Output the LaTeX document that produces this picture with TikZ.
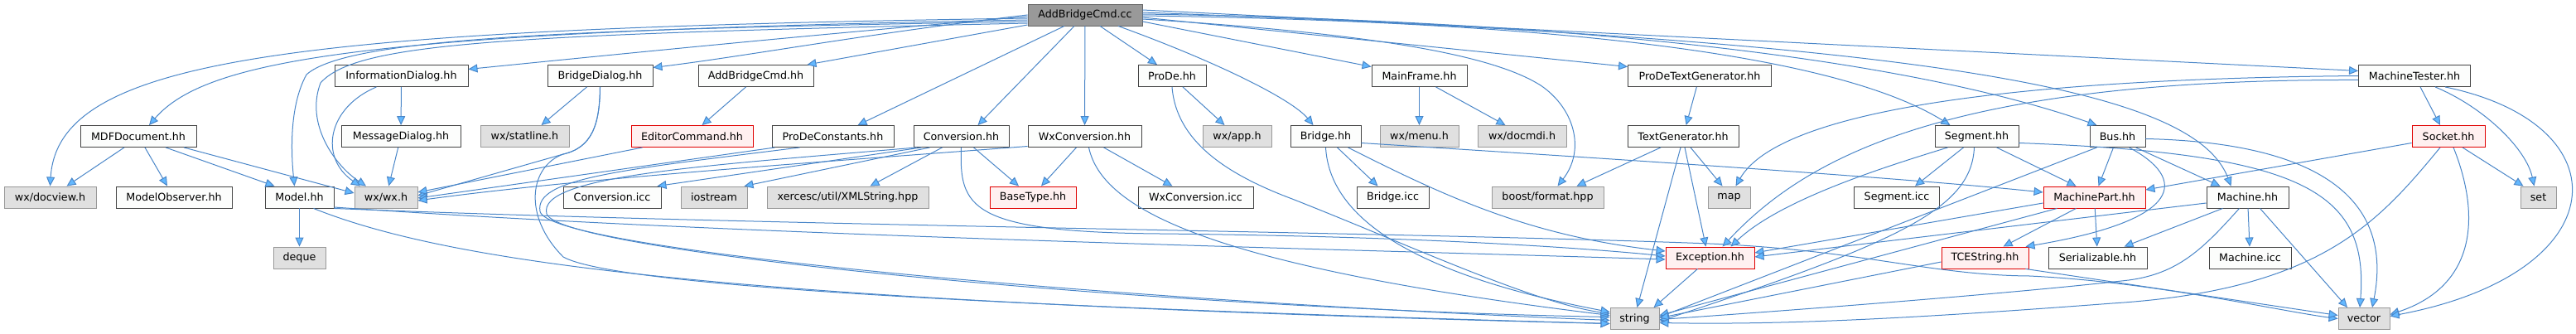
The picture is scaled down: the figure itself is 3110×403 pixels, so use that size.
\documentclass[tikz,border=0pt]{standalone}
\usepackage{fontspec}
\setmainfont{DejaVu Sans}
\usetikzlibrary{arrows.meta}
\definecolor{BoxFill}{HTML}{FCFDFC}
\definecolor{BoxLine}{HTML}{444444}
\definecolor{SysFill}{HTML}{E0E0E0}
\definecolor{SysLine}{HTML}{999999}
\definecolor{BadFill}{HTML}{FFF0F0}
\definecolor{BadLine}{HTML}{E00000}
\definecolor{RootFill}{HTML}{999999}
\definecolor{RootLine}{HTML}{666666}
\definecolor{EdgeBlue}{HTML}{4A86C8}
\definecolor{TipBlue}{HTML}{63B8FF}

\begin{document}
\begin{tikzpicture}[x=1pt, y=-1pt,
      box/.style={draw=BoxLine, fill=BoxFill, line width=0.9pt, minimum height=26pt,
                  inner sep=0pt, font=\fontsize{12.7}{15}\selectfont},
      sysbox/.style={box, draw=SysLine, fill=SysFill},
      badbox/.style={box, draw=BadLine, fill=BadFill},
      rootbox/.style={box, draw=RootLine, fill=RootFill},
      arr/.style={-{Triangle[length=11pt, width=10pt, fill=TipBlue]}, draw=EdgeBlue, line width=1pt}]
    \useasboundingbox (0,0) rectangle (3110,403);

    \node[rootbox, minimum width=138pt] (root) at (1310,18) {AddBridgeCmd.cc};

    \node[box, minimum width=161pt] (infodlg) at (484.5,91.5) {InformationDialog.hh};
    \node[box, minimum width=127pt] (bridgedlg) at (724.5,91.5) {BridgeDialog.hh};
    \node[box, minimum width=139pt] (addcmdhh) at (912.5,91.5) {AddBridgeCmd.hh};
    \node[box, minimum width=82pt] (prode) at (1415,91.5) {ProDe.hh};
    \node[box, minimum width=115pt] (mainframe) at (1713.5,91.5) {MainFrame.hh};
    \node[box, minimum width=173pt] (prodetextgen) at (2052,91.5) {ProDeTextGenerator.hh};
    \node[box, minimum width=135pt] (machinetester) at (2915,91.5) {MachineTester.hh};

    \node[box, minimum width=140pt] (mdfdoc) at (167,164.5) {MDFDocument.hh};
    \node[box, minimum width=144pt] (msgdlg) at (484,164.5) {MessageDialog.hh};
    \node[sysbox, minimum width=107pt] (statline) at (633.5,164.5) {wx/statline.h};
    \node[badbox, minimum width=147pt] (editorcmd) at (835.5,164.5) {EditorCommand.hh};
    \node[box, minimum width=147pt] (prodeconst) at (1005.5,164.5) {ProDeConstants.hh};
    \node[box, minimum width=115pt] (conv) at (1160.5,164.5) {Conversion.hh};
    \node[box, minimum width=137pt] (wxconv) at (1309.5,164.5) {WxConversion.hh};
    \node[sysbox, minimum width=83pt] (wxapp) at (1493.5,164.5) {wx/app.h};
    \node[box, minimum width=85pt] (bridge) at (1600.5,164.5) {Bridge.hh};
    \node[sysbox, minimum width=95pt] (wxmenu) at (1713.5,164.5) {wx/menu.h};
    \node[sysbox, minimum width=107pt] (docmdi) at (1837.5,164.5) {wx/docmdi.h};
    \node[box, minimum width=134pt] (textgen) at (2032,164.5) {TextGenerator.hh};
    \node[box, minimum width=101pt] (segment) at (2386.5,164.5) {Segment.hh};
    \node[box, minimum width=67pt] (bus) at (2556.5,164.5) {Bus.hh};
    \node[badbox, minimum width=88pt] (socket) at (2956,164.5) {Socket.hh};

    \node[sysbox, minimum width=111pt] (docview) at (60.5,238) {wx/docview.h};
    \node[box, minimum width=140pt] (modelobs) at (210,238) {ModelObserver.hh};
    \node[box, minimum width=83pt] (model) at (361.5,238) {Model.hh};
    \node[sysbox, minimum width=76pt] (wxwx) at (466,238) {wx/wx.h};
    \node[box, minimum width=118pt] (convicc) at (739,238) {Conversion.icc};
    \node[sysbox, minimum width=80pt] (iostream) at (862,238) {iostream};
    \node[sysbox, minimum width=195pt] (xmlstring) at (1023.5,238) {xercesc/util/XMLString.hpp};
    \node[badbox, minimum width=104pt] (basetype) at (1247,238) {BaseType.hh};
    \node[box, minimum width=139pt] (wxconvicc) at (1443.5,238) {WxConversion.icc};
    \node[box, minimum width=87pt] (bridgeicc) at (1681.5,238) {Bridge.icc};
    \node[sysbox, minimum width=135pt] (boostfmt) at (1868.5,238) {boost/format.hpp};
    \node[sysbox, minimum width=51pt] (map) at (2087.5,238) {map};
    \node[box, minimum width=103pt] (segicc) at (2290,238) {Segment.icc};
    \node[badbox, minimum width=123pt] (machinepart) at (2528.5,238) {MachinePart.hh};
    \node[box, minimum width=99pt] (machine) at (2713.5,238) {Machine.hh};
    \node[sysbox, minimum width=43pt] (set) at (3064.5,238) {set};

    \node[sysbox, minimum width=63pt] (deque) at (361.5,311) {deque};
    \node[badbox, minimum width=107pt] (exception) at (2064.5,311) {Exception.hh};
    \node[badbox, minimum width=105pt] (tcestring) at (2396.5,311) {TCEString.hh};
    \node[box, minimum width=119pt] (serializable) at (2532.5,311) {Serializable.hh};
    \node[box, minimum width=99pt] (machineicc) at (2716.5,311) {Machine.icc};

    \node[sysbox, minimum width=59pt] (string) at (1973.5,384.5) {string};
    \node[sysbox, minimum width=62pt] (vector) at (2854,384.5) {vector};

    \draw[arr] ([yshift=-4pt]root.west) .. controls (350,35) and (70,70) .. (docview.north);
    \draw[arr] ([yshift=-6pt]root.west) .. controls (450,38) and (250,70) .. ([xshift=13pt]mdfdoc.north);
    \draw[arr] ([yshift=-8pt]root.west) .. controls (700,35) and (420,45) .. (370,90)
               .. controls (348,130) and (352,190) .. ([xshift=-6pt]model.north);
    \draw[arr] ([yshift=-10pt]root.west) .. controls (600,42) and (430,52) .. (387,100)
               .. controls (368,150) and (405,200) .. ([xshift=-24pt]wxwx.north);
    \draw[arr] ([yshift=-2pt]root.west) .. controls (1000,40) and (750,65) .. ([yshift=8pt]infodlg.east);
    \draw[arr] (root.west) .. controls (1050,40) and (900,68) .. ([yshift=10pt]bridgedlg.east);
    \draw[arr] ([yshift=-12pt]root.west) -- ([xshift=-8pt]addcmdhh.north east);
    \draw[arr] ([xshift=-25pt]root.south) -- ([xshift=30pt]prodeconst.north);
    \draw[arr] ([xshift=-13pt]root.south) -- ([xshift=20pt]conv.north);
    \draw[arr] (root) -- (wxconv);
    \draw[arr] ([xshift=18pt]root.south) -- ([xshift=-18pt]prode.north);
    \draw[arr] ([xshift=40pt]root.south) .. controls (1470,75) and (1560,120) .. ([xshift=-15pt]bridge.north);
    \draw[arr] ([yshift=-8pt]root.east) -- ([yshift=11pt]mainframe.west);
    \draw[arr] ([yshift=-5pt]root.east) .. controls (1650,40) and (1800,65) .. (1860,103)
               .. controls (1900,130) and (1915,180) .. ([xshift=12pt]boostfmt.north);
    \draw[arr] ([yshift=-3pt]root.east) -- ([yshift=11pt]prodetextgen.west);
    \draw[arr] ([yshift=-1pt]root.east) .. controls (1800,25) and (2200,55) .. ([xshift=-32pt]segment.north);
    \draw[arr] ([yshift=1pt]root.east) .. controls (1900,25) and (2300,70) .. ([xshift=-25pt]bus.north);
    \draw[arr] ([yshift=3pt]root.east) .. controls (2350,50) and (2650,110) .. ([xshift=-20pt]machine.north);
    \draw[arr] ([yshift=6pt]root.east) -- ([yshift=6pt]machinetester.west);

    \draw[arr] ([xshift=-17pt]mdfdoc.south) -- ([xshift=20pt]docview.north);
    \draw[arr] ([xshift=8pt]mdfdoc.south) -- ([xshift=-8pt]modelobs.north);
    \draw[arr] ([xshift=33pt]mdfdoc.south) -- ([xshift=-30pt]model.north);
    \draw[arr] ([xshift=55pt]mdfdoc.south) -- ([yshift=5pt]wxwx.west);

    \draw[arr] (infodlg) -- (msgdlg);
    \draw[arr] ([xshift=-30pt]infodlg.south) .. controls (395,130) and (385,190) .. ([xshift=-31pt]wxwx.north);
    \draw[arr] (msgdlg) -- (wxwx);
    \draw[arr] ([xshift=-16pt]bridgedlg.south) -- ([xshift=20pt]statline.north);
    \draw[arr] (bridgedlg.south) .. controls (724,150) and (715,178) .. (680,186) -- ([yshift=2pt]wxwx.east);
    \draw[arr] (bridgedlg.south) .. controls (724,150) and (715,178) .. (680,186)
               .. controls (640,200) and (630,260) .. (680,310)
               .. controls (760,355) and (1500,378) .. ([yshift=-6pt]string.west);
    \draw[arr] ([xshift=-12pt]addcmdhh.south) -- ([xshift=12pt]editorcmd.north);
    \draw[arr] ([xshift=-60pt]editorcmd.south) -- ([yshift=6pt]wxwx.east);

    \draw[arr] ([xshift=4pt]prodeconst.south west) -- ([yshift=-1pt]wxwx.east);
    \draw[arr] ([xshift=-40pt]prodeconst.south) .. controls (750,205) and (645,215) .. (652,255)
               .. controls (660,300) and (1300,360) .. ([yshift=-2pt]string.west);

    \draw[arr] ([xshift=-23pt]conv.south) -- ([xshift=27pt]xmlstring.north);
    \draw[arr] ([xshift=15pt]conv.south) -- ([xshift=-17pt]basetype.north);
    \draw[arr] (conv.south) .. controls (1158,250) and (1170,280) .. (1400,282)
               .. controls (1700,285) and (1900,298) .. ([yshift=2pt]exception.west);
    \draw[arr] ([xshift=10pt]conv.south west) -- ([xshift=-5pt]convicc.north east);
    \draw[arr] ([xshift=20pt]conv.south west) -- ([xshift=-4pt]iostream.north east);
    \draw[arr] ([xshift=4pt]conv.south west) .. controls (850,200) and (648,212) .. (660,258)
               .. controls (675,305) and (1400,372) .. ([yshift=2pt]string.west);

    \draw[arr] ([xshift=-10pt]wxconv.south) -- ([xshift=10pt]basetype.north);
    \draw[arr] ([xshift=23pt]wxconv.south) -- ([xshift=-28pt]wxconvicc.north);
    \draw[arr] ([xshift=5pt]wxconv.south) .. controls (1330,250) and (1450,320) .. ([yshift=4pt]string.west);
    \draw[arr] ([yshift=-12pt]wxconv.west) .. controls (1000,195) and (700,215) .. ([yshift=-4pt]wxwx.east);

    \draw[arr] ([xshift=13pt]prode.south) -- ([xshift=-15pt]wxapp.north);
    \draw[arr] (prode.south) .. controls (1420,170) and (1480,210) .. (1560,240)
               .. controls (1700,295) and (1850,365) .. ([yshift=6pt]string.west);

    \draw[arr] (mainframe) -- (wxmenu);
    \draw[arr] ([xshift=20pt]mainframe.south) -- ([xshift=-20pt]docmdi.north);

    \draw[arr] (prodetextgen) -- (textgen);
    \draw[arr] ([xshift=-27pt]textgen.south) -- ([xshift=35pt]boostfmt.north);
    \draw[arr] ([xshift=9pt]textgen.south) -- ([xshift=-8pt]map.north);
    \draw[arr] ([xshift=2pt]textgen.south) -- ([xshift=-5pt]exception.north);
    \draw[arr] ([xshift=-3pt]textgen.south) -- ([xshift=3pt]string.north);

    \draw[arr] ([xshift=14pt]bridge.south) -- ([xshift=-18pt]bridgeicc.north);
    \draw[arr] (bridge.south) .. controls (1605,260) and (1700,330) .. ([yshift=8pt]string.west);
    \draw[arr] ([xshift=27pt]bridge.south) .. controls (1750,240) and (1850,285) .. ([yshift=8pt]exception.west);
    \draw[arr] ([yshift=-8pt]bridge.east) .. controls (2000,195) and (2300,215) .. ([yshift=6pt]machinepart.west);

    \draw[arr] (model) -- (deque);
    \draw[arr] ([yshift=-12pt]model.east) .. controls (900,285) and (1600,300) .. ([yshift=-2pt]exception.west);
    \draw[arr] (model.south east) .. controls (900,272) and (1700,280) .. (2064,294)
               .. controls (2250,302) and (2330,332) .. (2450,333)
               .. controls (2600,340) and (2750,375) .. (vector.west);
    \draw[arr] ([xshift=17pt]model.south) .. controls (550,320) and (900,365) .. ([yshift=-6pt]string.west);

    \draw[arr] ([xshift=-16pt]segment.south) -- ([xshift=22pt]segicc.north);
    \draw[arr] ([xshift=24pt]segment.south) -- ([xshift=-22pt]machinepart.north);
    \draw[arr] ([xshift=-35pt]segment.south) .. controls (2280,200) and (2150,240) .. ([xshift=25pt]exception.north);
    \draw[arr] ([xshift=-3pt]segment.south) .. controls (2380,250) and (2300,290) .. ([yshift=-3pt]string.east);
    \draw[arr] ([yshift=-8pt]segment.east) .. controls (2780,185) and (2860,230) .. ([xshift=-5pt]vector.north);

    \draw[arr] ([xshift=-5pt]bus.south) -- ([xshift=5pt]machinepart.north);
    \draw[arr] ([xshift=22pt]bus.south) -- ([xshift=-33pt]machine.north);
    \draw[arr] ([xshift=-25pt]bus.south) -- ([yshift=2pt]string.east);
    \draw[arr] ([xshift=14pt]bus.south) .. controls (2640,215) and (2640,265) .. ([xshift=-4pt]tcestring.north east);
    \draw[arr] ([yshift=-3pt]bus.east) .. controls (2800,172) and (2890,240) .. ([xshift=10pt]vector.north);

    \draw[arr] (machinepart) -- (serializable);
    \draw[arr] ([xshift=-22pt]machinepart.south) -- ([xshift=22pt]tcestring.north);
    \draw[arr] ([yshift=-7pt]machinepart.west) -- ([yshift=6pt]exception.east);
    \draw[arr] ([xshift=-45pt]machinepart.south) -- ([yshift=4pt]string.east);

    \draw[arr] (machine) -- (machineicc);
    \draw[arr] ([xshift=-30pt]machine.south) -- ([xshift=32pt]serializable.north);
    \draw[arr] ([xshift=15pt]machine.south) -- ([xshift=-20pt]vector.north);
    \draw[arr] ([yshift=-7pt]machine.west) -- ([yshift=1pt]exception.east);
    \draw[arr] ([xshift=-10pt]machine.south) .. controls (2660,300) and (2630,330) .. (2570,338)
               .. controls (2450,352) and (2200,372) .. ([yshift=-1pt]string.east);

    \draw[arr] ([yshift=-8pt]socket.west) -- ([yshift=9pt]machinepart.east);
    \draw[arr] ([xshift=-10pt]socket.south) .. controls (2870,270) and (2800,350) .. (2550,366)
               .. controls (2300,385) and (2150,392) .. ([yshift=-5pt]string.east);
    \draw[arr] ([xshift=6pt]socket.south) .. controls (2995,260) and (2990,345) .. ([yshift=5pt]vector.east);
    \draw[arr] ([xshift=17pt]socket.south) -- ([xshift=-18pt]set.north);

    \draw[arr] ([xshift=7pt]machinetester.south) -- ([xshift=-10pt]socket.north);
    \draw[arr] ([xshift=25pt]machinetester.south) .. controls (3000,130) and (3050,180) .. ([xshift=-5pt]set.north);
    \draw[arr] ([xshift=37pt]machinetester.south) .. controls (3170,150) and (3160,330) .. ([yshift=3pt]vector.east);
    \draw[arr] (machinetester.west) .. controls (2450,95) and (2150,130) .. ([xshift=8pt]map.north);
    \draw[arr] ([yshift=-5pt]machinetester.west) .. controls (2350,95) and (2180,190) .. ([xshift=15pt]exception.north);

    \draw[arr] ([yshift=-5pt]tcestring.west) -- ([yshift=1pt]string.east);
    \draw[arr] ([xshift=-4pt]tcestring.south east) -- ([yshift=4pt]vector.west);
    \draw[arr] ([xshift=-15pt]exception.south) -- ([xshift=23pt]string.north);
  \end{tikzpicture}
\end{document}
